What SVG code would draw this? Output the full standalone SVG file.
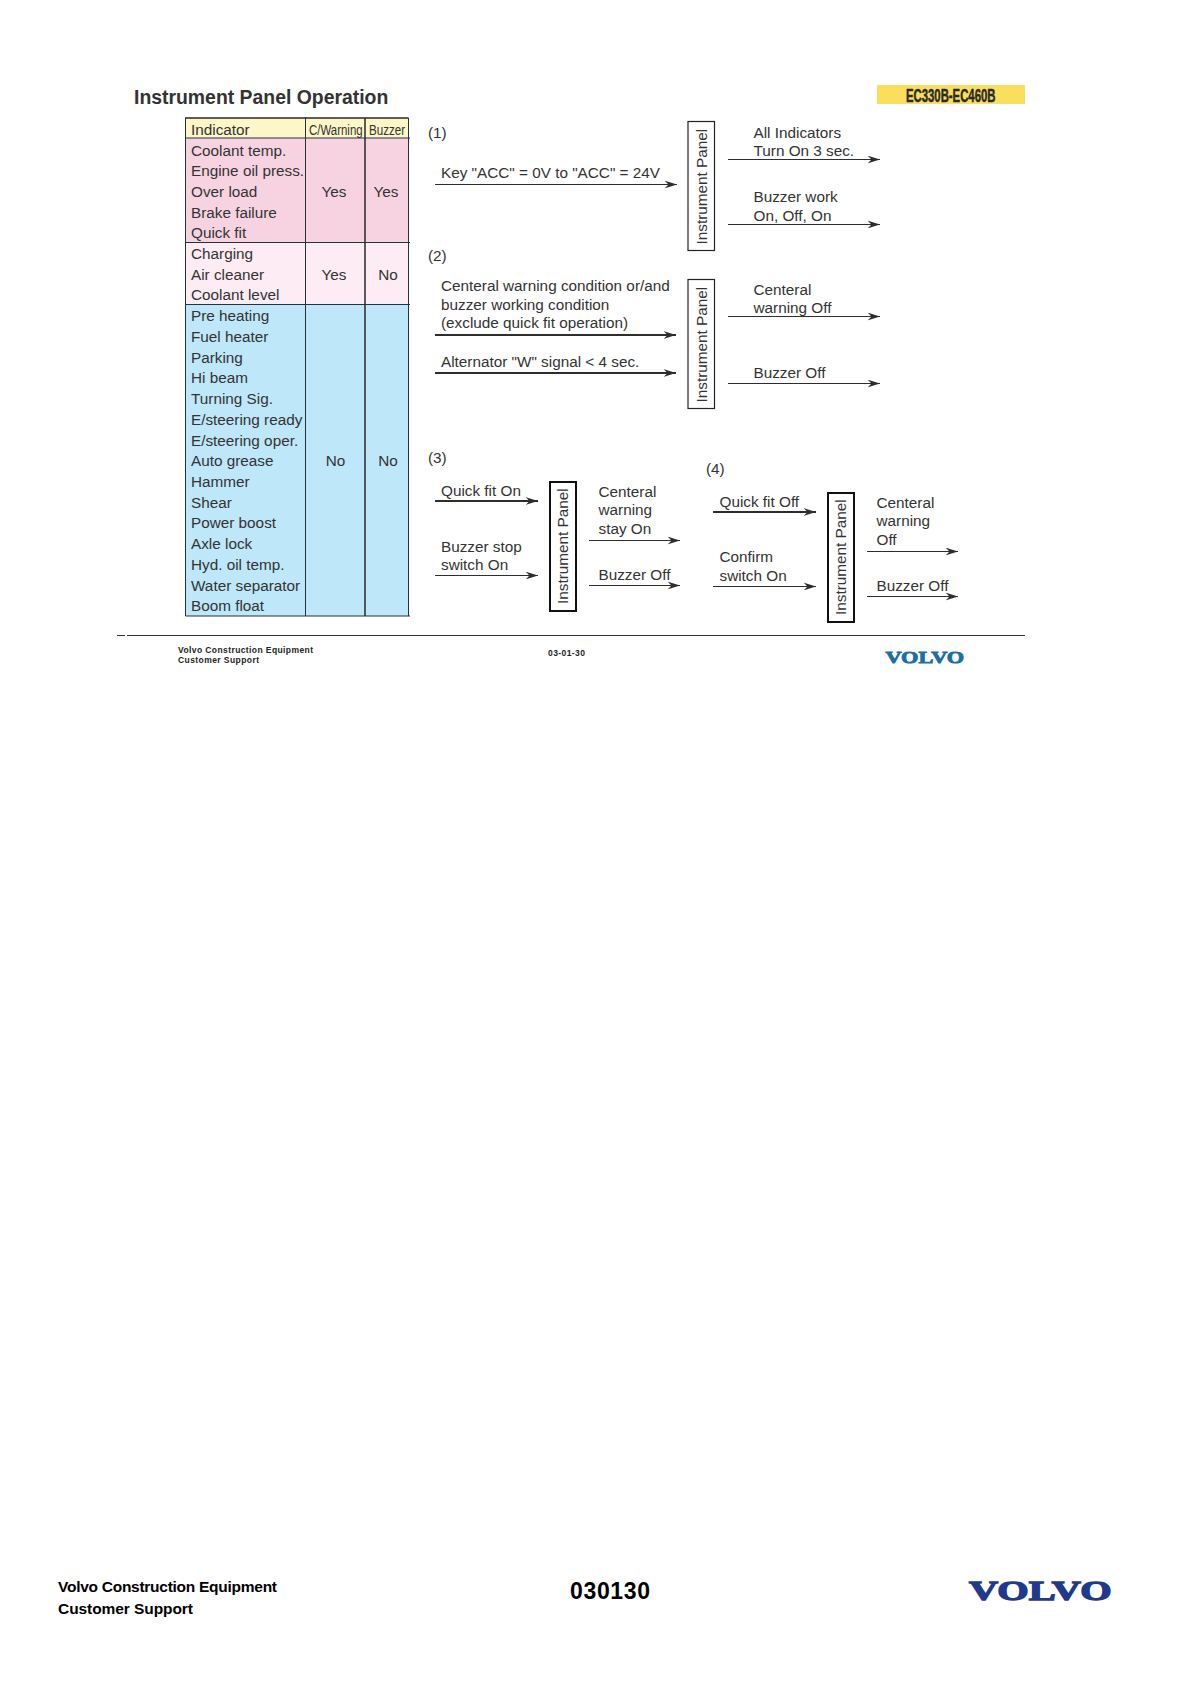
<svg xmlns="http://www.w3.org/2000/svg" width="1190" height="1684" viewBox="0 0 1190 1684">
<style>
text{font-family:"Liberation Sans",Arial,sans-serif;fill:#333;font-size:15.3px}
.c{text-anchor:middle}
.ln{stroke:#2e2e2e;stroke-width:1.1;fill:none;marker-end:url(#a)}
.th{stroke:#2e2e2e;stroke-width:2;fill:none;marker-end:url(#a2)}
.panel{fill:#fff;stroke:#222;stroke-width:1.2}
.panel2{fill:#fff;stroke:#111;stroke-width:2}
.g{stroke:#26323a;stroke-width:1;fill:none}
.gb{stroke:#2a2a2a;stroke-width:1.5;fill:none}
.f{font-weight:bold;fill:#222;font-size:8.5px}
.b{font-weight:bold;fill:#000;font-size:15.5px}
</style>
<defs>
<marker id="a" markerUnits="userSpaceOnUse" markerWidth="14" markerHeight="10" refX="12.500" refY="4.500" orient="auto"><path d="M0 0.500L12.500 4.500L0 8.500L4 4.500Z" fill="#2e2e2e"/></marker>
<marker id="a2" markerUnits="userSpaceOnUse" markerWidth="14" markerHeight="10" refX="12.500" refY="4.500" orient="auto"><path d="M0 0.500L12.500 4.500L0 8.500L4 4.500Z" fill="#2e2e2e"/></marker>
</defs>
<rect width="1190" height="1684" fill="#fff"/>
<g id="title"><text x="134" y="103.500" style="font-size:19.400px;font-weight:bold">Instrument Panel Operation</text></g>
<g id="model"><rect x="877" y="85" width="148" height="19" fill="#fbdf5c"/><text transform="translate(906 102) scale(.63 1)" style="font-size:18px;font-weight:bold;fill:#2a2a2a;stroke:#2a2a2a;stroke-width:.5">EC330B-EC460B</text></g>

<g id="table">
<rect x="185" y="118" width="224" height="20" fill="#fdf6c8"/>
<rect x="185" y="138" width="224" height="104" fill="#f7d3e2"/>
<rect x="185" y="242" width="224" height="62" fill="#fdecf3"/>
<rect x="185" y="304" width="224" height="312" fill="#bee7f9"/>
<path class="gb" d="M185 118H408.500M365 118V616"/>
<path class="g" d="M185.500 118V616H410M305.500 117V616M408.500 118V616M185 138H410M185 242.500H410M185 304.500H410"/>
<g id="hdr">
<text x="191" y="134.800">Indicator</text>
<text transform="translate(309 134.800) scale(.79 1)" style="font-size:14.500px">C/Warning</text>
<text transform="translate(369 134.800) scale(.8 1)" style="font-size:14.500px">Buzzer</text>
</g>
<g id="group-red">
<text x="191" y="155.700">Coolant temp.</text>
<text x="191" y="176.400">Engine oil press.</text>
<text x="191" y="197.100">Over load</text>
<text x="191" y="217.800">Brake failure</text>
<text x="191" y="238.400">Quick fit</text>
<text x="334" y="197.100" class="c">Yes</text><text x="386" y="197.100" class="c">Yes</text>
</g>
<g id="group-pink">
<text x="191" y="259.100">Charging</text>
<text x="191" y="279.800">Air cleaner</text>
<text x="191" y="300.400">Coolant level</text>
<text x="334" y="279.800" class="c">Yes</text><text x="388" y="279.800" class="c">No</text>
</g>
<g id="group-blue">
<text x="191" y="321.400">Pre heating</text>
<text x="191" y="341.900">Fuel heater</text>
<text x="191" y="362.700">Parking</text>
<text x="191" y="383.400">Hi beam</text>
<text x="191" y="404.100">Turning Sig.</text>
<text x="191" y="424.900">E/steering ready</text>
<text x="191" y="445.600">E/steering oper.</text>
<text x="191" y="466.300">Auto grease</text>
<text x="191" y="487">Hammer</text>
<text x="191" y="507.700">Shear</text>
<text x="191" y="528.400">Power boost</text>
<text x="191" y="549.100">Axle lock</text>
<text x="191" y="569.800">Hyd. oil temp.</text>
<text x="191" y="590.600">Water separator</text>
<text x="191" y="611.400">Boom float</text>
<text x="335.500" y="466.300" class="c">No</text><text x="388" y="466.300" class="c">No</text>
</g>
</g>

<g id="labels">
<text x="428" y="138">(1)</text>
<text x="428" y="261">(2)</text>
<text x="428" y="463">(3)</text>
<text x="706" y="474">(4)</text>
<text x="441" y="178">Key "ACC" = 0V to "ACC" = 24V</text>
<text x="441" y="291.300">Centeral warning condition or/and</text>
<text x="441" y="309.500">buzzer working condition</text>
<text x="441" y="328">(exclude quick fit operation)</text>
<text x="441" y="367">Alternator "W" signal &lt; 4 sec.</text>
<text x="753.500" y="138">All Indicators</text>
<text x="753.500" y="156">Turn On 3 sec.</text>
<text x="753.500" y="202">Buzzer work</text>
<text x="753.500" y="220.500">On, Off, On</text>
<text x="753.500" y="295">Centeral</text>
<text x="753.500" y="313">warning Off</text>
<text x="753.500" y="378">Buzzer Off</text>
<text x="441" y="496">Quick fit On</text>
<text x="441" y="551.500">Buzzer stop</text>
<text x="441" y="570">switch On</text>
<text x="598.500" y="497">Centeral</text>
<text x="598.500" y="515.300">warning</text>
<text x="598.500" y="534">stay On</text>
<text x="598.500" y="580">Buzzer Off</text>
<text x="719.500" y="507">Quick fit Off</text>
<text x="719.500" y="562.300">Confirm</text>
<text x="719.500" y="581">switch On</text>
<text x="876.500" y="508">Centeral</text>
<text x="876.500" y="526.300">warning</text>
<text x="876.500" y="545">Off</text>
<text x="876.500" y="591">Buzzer Off</text>
</g>

<g id="panel-1"><rect class="panel" x="688" y="121.500" width="26.500" height="129"/><text transform="translate(706.500 244.500) rotate(-90)">Instrument Panel</text></g>
<g id="panel-2"><rect class="panel" x="688" y="279.500" width="26.500" height="129"/><text transform="translate(706.500 402.500) rotate(-90)">Instrument Panel</text></g>
<g id="panel-3"><rect class="panel2" x="550" y="482" width="26" height="129"/><text transform="translate(567.500 604) rotate(-90)">Instrument Panel</text></g>
<g id="panel-4"><rect class="panel2" x="828" y="493" width="26" height="129"/><text transform="translate(845.500 615) rotate(-90)">Instrument Panel</text></g>

<g id="connectors">
<line class="ln" x1="435" y1="184.500" x2="677" y2="184.500"/>
<line class="ln" x1="728" y1="159.500" x2="880" y2="159.500"/>
<line class="ln" x1="728" y1="224.500" x2="880" y2="224.500"/>
<line class="th" x1="435" y1="335" x2="676" y2="335"/>
<line class="th" x1="435" y1="373" x2="676" y2="373"/>
<line class="ln" x1="728" y1="316.500" x2="880" y2="316.500"/>
<line class="ln" x1="728" y1="383.500" x2="880" y2="383.500"/>
<line class="th" x1="435" y1="501" x2="538" y2="501"/>
<line class="ln" x1="435" y1="575.500" x2="538" y2="575.500"/>
<line class="ln" x1="589" y1="540.500" x2="680" y2="540.500"/>
<line class="ln" x1="589" y1="585.500" x2="680" y2="585.500"/>
<line class="th" x1="713" y1="512" x2="816" y2="512"/>
<line class="ln" x1="713" y1="586.500" x2="816" y2="586.500"/>
<line class="ln" x1="867" y1="551.500" x2="958" y2="551.500"/>
<line class="ln" x1="867" y1="596.500" x2="958" y2="596.500"/>
</g>

<g id="page-footer">
<path d="M117 635.500H125M127 635.500H1025" stroke="#333" stroke-width="1" fill="none"/>
<text x="178" y="652.500" class="f" textLength="135">Volvo Construction Equipment</text>
<text x="178" y="663" class="f" textLength="81">Customer Support</text>
<text x="548" y="656" class="f" textLength="37">03-01-30</text>
<text transform="translate(885.500 662.500) scale(1.39 1)" style="font-family:'Liberation Serif',serif;font-weight:bold;font-size:16px;fill:#1b6ea6;stroke:#1b6ea6;stroke-width:.8">VOLVO</text>
</g>
<g id="sheet-footer">
<text x="58" y="1591.500" class="b" textLength="219">Volvo Construction Equipment</text>
<text x="58" y="1613.500" class="b" textLength="135">Customer Support</text>
<text x="570" y="1599" style="font-size:23px;font-weight:bold;fill:#000" textLength="80">030130</text>
<text transform="translate(969 1600) scale(1.44 1)" style="font-family:'Liberation Serif',serif;font-weight:bold;font-size:28px;fill:#1f3a8a;stroke:#1f3a8a;stroke-width:1.300">VOLVO</text>
</g>
</svg>
